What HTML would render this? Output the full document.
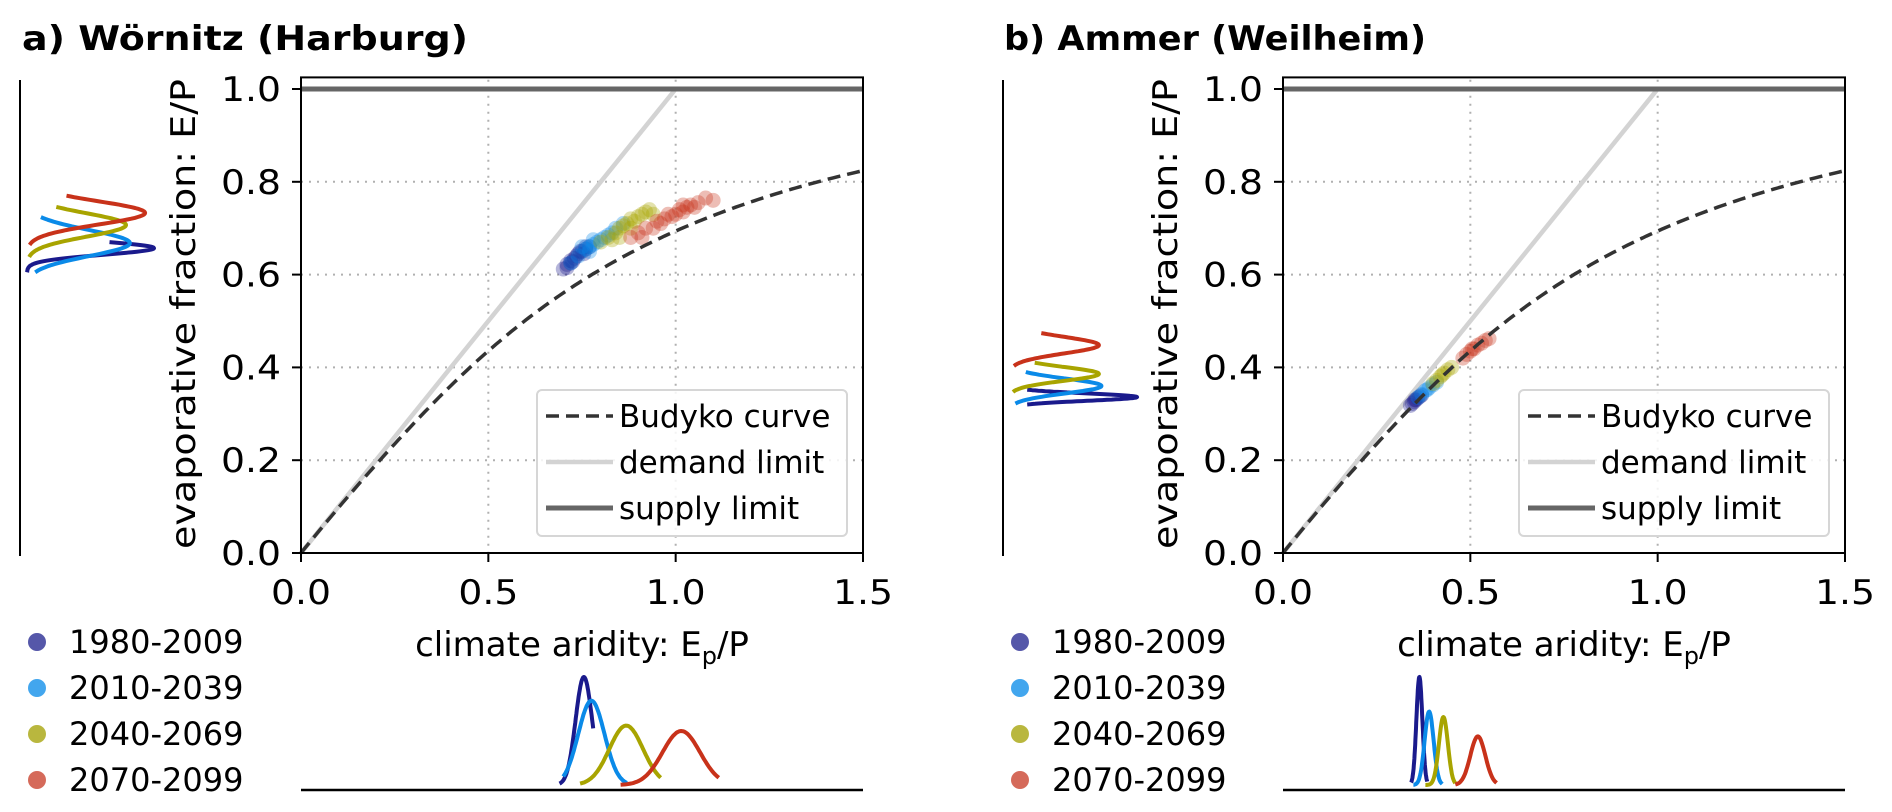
<!DOCTYPE html>
<html><head><meta charset="utf-8">
<style>
html,body{margin:0;padding:0;background:#fff;}
svg{display:block;font-family:"DejaVu Sans","Liberation Sans",sans-serif;}
</style></head>
<body>
<svg id="fig" width="1892" height="812" viewBox="0 0 1892 812" xmlns="http://www.w3.org/2000/svg"></svg>
<script>
// ---------- data ----------
const periods = ["1980-2009","2010-2039","2040-2069","2070-2099"];
const lineColors = ["#1a1a8c","#0a8ae8","#a8a400","#c8321a"];
const dotColors = ["#5557a9","#42a6ee","#b9b73e","#d56a5a"];
const xTicks = [0.0,0.5,1.0,1.5];
const xTickLabels = ["0.0","0.5","1.0","1.5"];
const yTicks = [0.0,0.2,0.4,0.6,0.8,1.0];
const yTickLabels = ["0.0","0.2","0.4","0.6","0.8","1.0"];
const titles = ["a) Wörnitz (Harburg)","b) Ammer (Weilheim)"];

// scatter points [aridity, evaporative fraction]
const ptsA1 = [[0.70,0.612],[0.71,0.622],[0.72,0.63],[0.73,0.635],[0.72,0.625],[0.74,0.645],[0.75,0.65],[0.76,0.655],[0.735,0.64],[0.745,0.65],[0.755,0.645],[0.77,0.66],[0.71,0.615],[0.725,0.628],[0.76,0.66]];
const ptsA2 = [[0.72,0.625],[0.74,0.64],[0.76,0.655],[0.77,0.66],[0.78,0.665],[0.79,0.67],[0.80,0.675],[0.78,0.675],[0.81,0.68],[0.83,0.69],[0.84,0.70],[0.77,0.65],[0.82,0.685],[0.86,0.71],[0.75,0.66]];
const ptsA3 = [[0.80,0.67],[0.82,0.68],[0.84,0.69],[0.85,0.70],[0.86,0.705],[0.87,0.71],[0.88,0.72],[0.89,0.715],[0.90,0.725],[0.91,0.73],[0.92,0.735],[0.93,0.74],[0.85,0.68],[0.88,0.70],[0.94,0.73],[0.83,0.675]];
const ptsA4 = [[0.88,0.68],[0.90,0.69],[0.92,0.70],[0.94,0.70],[0.96,0.71],[0.97,0.72],[0.99,0.725],[1.00,0.73],[1.01,0.74],[1.02,0.735],[1.03,0.745],[1.04,0.75],[1.05,0.745],[1.06,0.755],[1.08,0.765],[1.10,0.76],[0.95,0.715],[0.91,0.68],[0.98,0.73],[1.02,0.75]];
const ptsB1 = [[0.34,0.318],[0.345,0.322],[0.35,0.326],[0.355,0.33],[0.36,0.334],[0.365,0.337],[0.37,0.34],[0.352,0.33]];
const ptsB2 = [[0.36,0.335],[0.37,0.342],[0.38,0.35],[0.39,0.356],[0.40,0.362],[0.385,0.352],[0.41,0.368]];
const ptsB3 = [[0.40,0.365],[0.41,0.372],[0.42,0.38],[0.43,0.388],[0.44,0.395],[0.45,0.40],[0.425,0.384]];
const ptsB4 = [[0.48,0.42],[0.49,0.428],[0.50,0.435],[0.51,0.44],[0.52,0.448],[0.53,0.452],[0.54,0.458],[0.55,0.462],[0.505,0.44]];

// marginal distributions: mean, sd, peak density, lo, hi (per period)
const yMargA_mean = [0.657,0.668,0.707,0.733];
const yMargA_sd   = [0.014,0.028,0.025,0.025];
const yMargA_peak = [1.0,0.81,0.78,0.93];
const yMargA_lo   = [0.605,0.605,0.638,0.664];
const yMargA_hi   = [0.670,0.724,0.746,0.770];
const yMargB_mean = [0.336,0.360,0.386,0.448];
const yMargB_sd   = [0.008,0.016,0.015,0.018];
const yMargB_peak = [1.0,0.72,0.70,0.70];
const yMargB_lo   = [0.320,0.322,0.347,0.403];
const yMargB_hi   = [0.352,0.390,0.410,0.474];
const xMargA_mean = [0.755,0.775,0.868,1.015];
const xMargA_sd   = [0.022,0.035,0.045,0.05];
const xMargA_peak = [1.0,0.78,0.55,0.50];
const xMargA_lo   = [0.69,0.70,0.745,0.853];
const xMargA_hi   = [0.78,0.87,0.96,1.115];
const xMargB_mean = [0.364,0.390,0.428,0.520];
const xMargB_sd   = [0.008,0.012,0.012,0.02];
const xMargB_peak = [1.0,0.68,0.63,0.45];
const xMargB_lo   = [0.342,0.348,0.38,0.46];
const xMargB_hi   = [0.385,0.425,0.46,0.57];

// ---------- drawing ----------
const NS="http://www.w3.org/2000/svg";
const svg=document.getElementById('fig');
function el(tag,attrs,parent){const e=document.createElementNS(NS,tag);for(const k in attrs)e.setAttribute(k,attrs[k]);(parent||svg).appendChild(e);return e;}

function budyko(p){if(p<=0)return 0;return Math.sqrt(p*Math.tanh(1/p)*(1-Math.exp(-p)));}

function drawPanel(cfg){
  const X0=cfg.left, W=562, Y0=553, H=464;
  const x=v=>X0+v/1.5*W;
  const y=v=>Y0-v*H;
  const g=el('g',{});
  
  
  // title
  const t=el('text',{x:cfg.titleX,y:50,'font-size':34,'font-weight':'bold',fill:'#000',textLength:446,lengthAdjust:'spacingAndGlyphs'},g);
  t.textContent=cfg.title;
  if(cfg.titleLen)t.setAttribute('textLength',cfg.titleLen);
  
  
  // grid
  xTicks.slice(1,3).forEach(v=>{
    const l=el('line',{x1:x(v),x2:x(v),y1:y(1.02),y2:Y0,stroke:'#b0b0b0','stroke-width':2,'stroke-dasharray':'2,6'},g);
    
    
  });
  yTicks.slice(1,5).forEach(v=>{
    const l=el('line',{x1:X0,x2:X0+W,y1:y(v),y2:y(v),stroke:'#b0b0b0','stroke-width':2,'stroke-dasharray':'2,6'},g);
    
    
  });
  // demand limit
  const dl=el('line',{x1:x(0),y1:y(0),x2:x(1),y2:y(1),stroke:'#d3d3d3','stroke-width':4.5},g);
  
  
  // supply limit
  const sl=el('line',{x1:X0,y1:y(1),x2:X0+W,y2:y(1),stroke:'#666','stroke-width':5},g);
  
  
  // scatter
  cfg.pts.forEach((arr,i)=>{
    arr.forEach(p=>{
      const c=el('circle',{cx:x(p[0]),cy:y(p[1]),r:7.5,fill:lineColors[i],'fill-opacity':0.32},g);
      
      
    });
  });
  // budyko
  let d='';for(let i=0;i<=150;i++){const v=i/100;d+=(i?'L':'M')+x(v).toFixed(1)+','+y(budyko(v)).toFixed(1);}
  const bc=el('path',{d:d,fill:'none',stroke:'#333','stroke-width':3.5,'stroke-dasharray':'13,7'},g);
  
  
  // frame
  const fr=el('rect',{x:X0,y:y(1.025),width:W,height:Y0-y(1.025),fill:'none',stroke:'#000','stroke-width':2},g);
  
  
  // ticks
  xTicks.forEach((v,i)=>{
    el('line',{x1:x(v),x2:x(v),y1:Y0,y2:Y0+9,stroke:'#000','stroke-width':2},g);
    const tl=el('text',{x:x(v),y:604,'font-size':34,'text-anchor':'middle',fill:'#000',textLength:60,lengthAdjust:'spacingAndGlyphs'},g);
    tl.textContent=xTickLabels[i];
    
    
  });
  yTicks.forEach((v,i)=>{
    el('line',{x1:X0-9,x2:X0,y1:y(v),y2:y(v),stroke:'#000','stroke-width':2},g);
    const tl=el('text',{x:X0-20,y:y(v)+12,'font-size':34,'text-anchor':'end',fill:'#000',textLength:60,lengthAdjust:'spacingAndGlyphs'},g);
    tl.textContent=yTickLabels[i];
    
    
  });
  // axis titles
  const yl=el('text',{x:0,y:0,'font-size':34,'text-anchor':'middle',fill:'#000',transform:`translate(${X0-106},314) rotate(-90)`,textLength:470,lengthAdjust:'spacingAndGlyphs'},g);
  yl.textContent='evaporative fraction: E/P';
  
  
  const xl=el('text',{x:x(0.75),y:656,'font-size':34,'text-anchor':'middle',fill:'#000'},g);
  xl.innerHTML='climate aridity: E<tspan font-size="24" dy="8">p</tspan><tspan dy="-8">/P</tspan>';
  
  
  // legend (lines)
  const lg=el('g',{},g);
  
  
  el('rect',{x:X0+236,y:390,width:310,height:146,rx:5,fill:'#fff','fill-opacity':0.85,stroke:'#d6d6d6','stroke-width':2},lg);
  const entries=[['Budyko curve','#333',3.5,'13,7'],['demand limit','#d3d3d3',4.5,''],['supply limit','#666',5,'']];
  entries.forEach((e,i)=>{
    const yy=416+i*46;
    const ln=el('line',{x1:X0+245,x2:X0+312,y1:yy,y2:yy,stroke:e[1],'stroke-width':e[2]},lg);
    if(e[3])ln.setAttribute('stroke-dasharray',e[3]);
    const tx=el('text',{x:X0+318,y:yy+11,'font-size':31,fill:'#000'},lg);
    tx.textContent=e[0];
    
    
  });
  // y marginal
  const mb=cfg.margLeft;
  const ym=el('line',{x1:mb,x2:mb,y1:80,y2:556,stroke:'#000','stroke-width':2},g);
  
  
  for(let i=0;i<4;i++){
    let p='';const n=60;
    for(let k=0;k<=n;k++){
      const v=cfg.yM.lo[i]+(cfg.yM.hi[i]-cfg.yM.lo[i])*k/n;
      const dens=cfg.yM.peak[i]*Math.exp(-0.5*Math.pow((v-cfg.yM.mean[i])/cfg.yM.sd[i],2));
      p+=(k?'L':'M')+(mb+7+dens*127).toFixed(1)+','+y(v).toFixed(1);
    }
    const pp=el('path',{d:p,fill:'none',stroke:lineColors[i],'stroke-width':4,'stroke-linejoin':'round'},g);
    
    
  }
  // x marginal
  const bl=el('line',{x1:X0,x2:X0+W,y1:790,y2:790,stroke:'#000','stroke-width':2.5},g);
  
  
  for(let i=0;i<4;i++){
    let p='';const n=60;
    for(let k=0;k<=n;k++){
      const v=cfg.xM.lo[i]+(cfg.xM.hi[i]-cfg.xM.lo[i])*k/n;
      const dens=cfg.xM.peak[i]*Math.exp(-0.5*Math.pow((v-cfg.xM.mean[i])/cfg.xM.sd[i],2));
      p+=(k?'L':'M')+x(v).toFixed(1)+','+(785-dens*108).toFixed(1);
    }
    const pp=el('path',{d:p,fill:'none',stroke:lineColors[i],'stroke-width':4,'stroke-linejoin':'round'},g);
    
    
  }
  // period legend
  periods.forEach((pname,i)=>{
    const yy=642+i*46;
    const c=el('circle',{cx:cfg.margLeft+17,cy:yy,r:9,fill:dotColors[i]},g);
    
    
    const tx=el('text',{x:cfg.margLeft+49,y:yy+11,'font-size':32,fill:'#000'},g);
    tx.textContent=pname;
    
    
  });
}

drawPanel({name:'panel-a-wornitz',left:301,titleX:22,title:titles[0],titleLen:446,margLeft:20,
  pts:[ptsA1,ptsA2,ptsA3,ptsA4],
  yM:{mean:yMargA_mean,sd:yMargA_sd,peak:yMargA_peak,lo:yMargA_lo,hi:yMargA_hi},
  xM:{mean:xMargA_mean,sd:xMargA_sd,peak:xMargA_peak,lo:xMargA_lo,hi:xMargA_hi}});
drawPanel({name:'panel-b-ammer',left:1283,titleX:1004,title:titles[1],titleLen:422,margLeft:1003,
  pts:[ptsB1,ptsB2,ptsB3,ptsB4],
  yM:{mean:yMargB_mean,sd:yMargB_sd,peak:yMargB_peak,lo:yMargB_lo,hi:yMargB_hi},
  xM:{mean:xMargB_mean,sd:xMargB_sd,peak:xMargB_peak,lo:xMargB_lo,hi:xMargB_hi}});
</script>
</body></html>
